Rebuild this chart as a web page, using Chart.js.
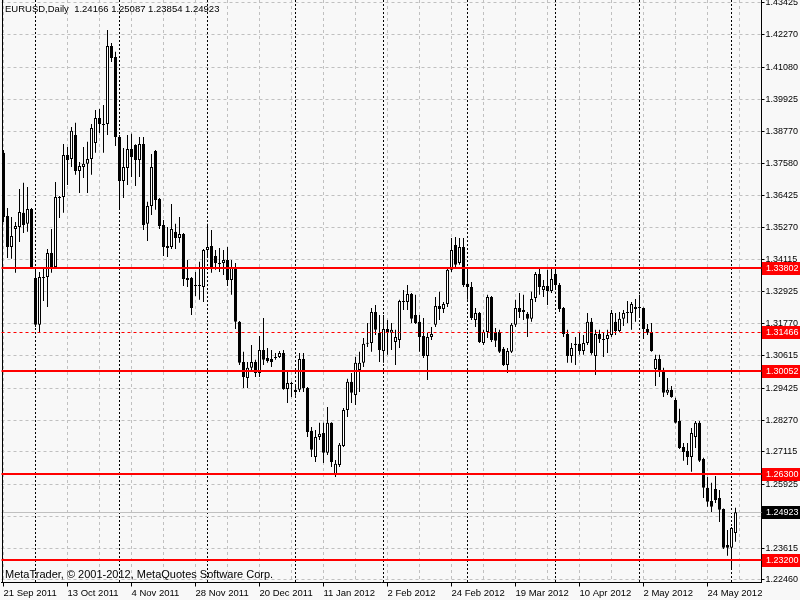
<!DOCTYPE html>
<html>
<head>
<meta charset="utf-8">
<script src="https://cdn.jsdelivr.net/npm/chart.js@4.4.0/dist/chart.umd.min.js"></script>
<style>
  html, body { margin: 0; padding: 0; background: #f8f8f8; }
  #wrap { width: 800px; height: 600px; }
</style>
</head>
<body>
<div id="wrap"><canvas id="chart" width="800" height="600"></canvas></div>
<script>
const symbolTitle = 'EURUSD,Daily';
const copyright = 'MetaTrader, \u00a9 2001-2012, MetaQuotes Software Corp.';

// daily bars, 21 Sep 2011 .. 4 Jun 2012
const opens = [
  1.3798, 1.3569, 1.3456, 1.3521, 1.3529, 1.3580, 1.3540, 1.3594, 1.3343, 1.3173,
  1.3343, 1.3347, 1.3434, 1.3383, 1.3634, 1.3638, 1.3790, 1.3776, 1.3863, 1.3732,
  1.3747, 1.3758, 1.3776, 1.3834, 1.3925, 1.3899, 1.3903, 1.4186, 1.4146, 1.3856,
  1.3696, 1.3743, 1.3812, 1.3827, 1.3772, 1.3830, 1.3540, 1.3605, 1.3805, 1.3630,
  1.3536, 1.3460, 1.3456, 1.3511, 1.3489, 1.3503, 1.3343, 1.3343, 1.3318, 1.3314,
  1.3311, 1.3445, 1.3460, 1.3423, 1.3394, 1.3398, 1.3409, 1.3336, 1.3380, 1.3184,
  1.3038, 1.2980, 1.3017, 1.3038, 1.2998, 1.3082, 1.3053, 1.3049, 1.3053, 1.3056,
  1.3071, 1.2940, 1.2958, 1.2937, 1.2937, 1.3049, 1.2944, 1.2788, 1.2693, 1.2766,
  1.2780, 1.2708, 1.2817, 1.2628, 1.2664, 1.2733, 1.2864, 1.2966, 1.2918, 1.3009,
  1.3035, 1.3104, 1.3107, 1.3220, 1.3144, 1.3078, 1.3158, 1.3144, 1.3111, 1.3118,
  1.3256, 1.3256, 1.3285, 1.3209, 1.3184, 1.3133, 1.3060, 1.3129, 1.3173, 1.3242,
  1.3231, 1.3249, 1.3373, 1.3463, 1.3398, 1.3456, 1.3322, 1.3311, 1.3191, 1.3216,
  1.3107, 1.3147, 1.3274, 1.3147, 1.3147, 1.3086, 1.3027, 1.3075, 1.3173, 1.3234,
  1.3220, 1.3213, 1.3195, 1.3271, 1.3358, 1.3300, 1.3314, 1.3296, 1.3358, 1.3318,
  1.3234, 1.3140, 1.3060, 1.3100, 1.3104, 1.3078, 1.3107, 1.3184, 1.3060, 1.3140,
  1.3122, 1.3122, 1.3136, 1.3184, 1.3151, 1.3195, 1.3216, 1.3216, 1.3231, 1.3238,
  1.3234, 1.3158, 1.3147, 1.3013, 1.3049, 1.3006, 1.2926, 1.2937, 1.2900, 1.2824,
  1.2729, 1.2715, 1.2693, 1.2766, 1.2817, 1.2686, 1.2581, 1.2533, 1.2577, 1.2544,
  1.2504, 1.2373, 1.2363, 1.24166
];
const highs = [
  1.3808, 1.3598, 1.3565, 1.3547, 1.3667, 1.3689, 1.3674, 1.3598, 1.3380, 1.3365,
  1.3380, 1.3449, 1.3521, 1.3692, 1.3641, 1.3830, 1.3819, 1.3892, 1.3907, 1.3765,
  1.3819, 1.3838, 1.3903, 1.3954, 1.3957, 1.3972, 1.4244, 1.4197, 1.4165, 1.3863,
  1.3816, 1.3863, 1.3867, 1.3829, 1.3856, 1.3856, 1.3620, 1.3794, 1.3808, 1.3634,
  1.3554, 1.3529, 1.3612, 1.3540, 1.3565, 1.3507, 1.3409, 1.3347, 1.3365, 1.3402,
  1.3449, 1.3540, 1.3518, 1.3445, 1.3452, 1.3445, 1.3456, 1.3409, 1.3398, 1.3187,
  1.3075, 1.3038, 1.3100, 1.3046, 1.3133, 1.3198, 1.3089, 1.3082, 1.3071, 1.3078,
  1.3082, 1.3009, 1.2966, 1.2951, 1.3071, 1.3071, 1.2947, 1.2802, 1.2791, 1.2817,
  1.2817, 1.2875, 1.2819, 1.2682, 1.2744, 1.2871, 1.2977, 1.2998, 1.3056, 1.3075,
  1.3125, 1.3180, 1.3234, 1.3245, 1.3209, 1.3209, 1.3191, 1.3180, 1.3155, 1.3264,
  1.3300, 1.3318, 1.3289, 1.3282, 1.3209, 1.3198, 1.3144, 1.3165, 1.3274, 1.3293,
  1.3256, 1.3380, 1.3489, 1.3492, 1.3489, 1.3489, 1.3380, 1.3329, 1.3234, 1.3220,
  1.3155, 1.3282, 1.3278, 1.3162, 1.3155, 1.3093, 1.3089, 1.3180, 1.3264, 1.3289,
  1.3282, 1.3220, 1.3293, 1.3365, 1.3376, 1.3336, 1.3373, 1.3376, 1.3376, 1.3325,
  1.3238, 1.3155, 1.3107, 1.3129, 1.3144, 1.3136, 1.3216, 1.3198, 1.3155, 1.3155,
  1.3144, 1.3155, 1.3227, 1.3216, 1.3220, 1.3227, 1.3260, 1.3256, 1.3267, 1.3282,
  1.3236, 1.3176, 1.3180, 1.3064, 1.3064, 1.3017, 1.2980, 1.2951, 1.2908, 1.2868,
  1.2744, 1.2744, 1.2798, 1.2824, 1.2824, 1.2690, 1.2620, 1.2599, 1.2624, 1.2573,
  1.2506, 1.2428, 1.2439, 1.25087
];
const lows = [
  1.3547, 1.3416, 1.3413, 1.3362, 1.3474, 1.3507, 1.3511, 1.3376, 1.3165, 1.3144,
  1.3260, 1.3238, 1.3362, 1.3380, 1.3561, 1.3580, 1.3681, 1.3747, 1.3718, 1.3652,
  1.3707, 1.3652, 1.3718, 1.3798, 1.3870, 1.3798, 1.3863, 1.4128, 1.3823, 1.3598,
  1.3634, 1.3681, 1.3710, 1.3678, 1.3710, 1.3518, 1.3478, 1.3572, 1.3591, 1.3521,
  1.3423, 1.3420, 1.3449, 1.3449, 1.3471, 1.3314, 1.3311, 1.3209, 1.3278, 1.3264,
  1.3256, 1.3416, 1.3362, 1.3373, 1.3365, 1.3354, 1.3314, 1.3282, 1.3158, 1.3027,
  1.2944, 1.2944, 1.3002, 1.2984, 1.2984, 1.3027, 1.3035, 1.3020, 1.3046, 1.3053,
  1.2937, 1.2889, 1.2911, 1.2915, 1.2929, 1.2929, 1.2766, 1.2693, 1.2675, 1.2755,
  1.2671, 1.2700, 1.2657, 1.2620, 1.2657, 1.2729, 1.2838, 1.2889, 1.2882, 1.2929,
  1.3020, 1.3093, 1.3075, 1.3136, 1.3038, 1.3035, 1.3064, 1.3082, 1.3027, 1.3089,
  1.3227, 1.3227, 1.3180, 1.3176, 1.3075, 1.3053, 1.2973, 1.3118, 1.3165, 1.3191,
  1.3216, 1.3238, 1.3365, 1.3383, 1.3391, 1.3311, 1.3264, 1.3191, 1.3165, 1.3107,
  1.3100, 1.3125, 1.3111, 1.3093, 1.3071, 1.3024, 1.2998, 1.3071, 1.3165, 1.3198,
  1.3191, 1.3129, 1.3184, 1.3256, 1.3282, 1.3274, 1.3245, 1.3289, 1.3307, 1.3220,
  1.3129, 1.3035, 1.3035, 1.3027, 1.3064, 1.3064, 1.3100, 1.3064, 1.2991, 1.3107,
  1.3056, 1.3071, 1.3129, 1.3136, 1.3147, 1.3169, 1.3180, 1.3155, 1.3184, 1.3202,
  1.3122, 1.3136, 1.3075, 1.2951, 1.2984, 1.2911, 1.2918, 1.2908, 1.2815, 1.2722,
  1.2679, 1.2664, 1.2639, 1.2726, 1.2675, 1.2544, 1.2512, 1.2493, 1.2526, 1.2457,
  1.2359, 1.2334, 1.2283, 1.23854
];
const closes = [
  1.3565, 1.3456, 1.3496, 1.3532, 1.3583, 1.3536, 1.3594, 1.3380, 1.3173, 1.3347,
  1.3347, 1.3434, 1.3380, 1.3638, 1.3638, 1.3790, 1.3772, 1.3878, 1.3732, 1.3750,
  1.3758, 1.3776, 1.3888, 1.3925, 1.3903, 1.3903, 1.4186, 1.4143, 1.3856, 1.3696,
  1.3747, 1.3812, 1.3783, 1.3772, 1.3830, 1.3536, 1.3605, 1.3747, 1.3627, 1.3532,
  1.3456, 1.3452, 1.3521, 1.3489, 1.3503, 1.3340, 1.3336, 1.3234, 1.3314, 1.3318,
  1.3445, 1.3456, 1.3383, 1.3398, 1.3398, 1.3409, 1.3336, 1.3380, 1.3184, 1.3035,
  1.2984, 1.3017, 1.3038, 1.2998, 1.3082, 1.3046, 1.3042, 1.3038, 1.3056, 1.3071,
  1.2940, 1.2962, 1.2962, 1.2929, 1.3049, 1.2944, 1.2784, 1.2719, 1.2766, 1.2777,
  1.2708, 1.2817, 1.2675, 1.2668, 1.2737, 1.2864, 1.2966, 1.2926, 1.3035, 1.3035,
  1.3104, 1.3107, 1.3220, 1.3155, 1.3082, 1.3158, 1.3144, 1.3155, 1.3129, 1.3260,
  1.3260, 1.3285, 1.3195, 1.3180, 1.3129, 1.3060, 1.3129, 1.3140, 1.3242, 1.3231,
  1.3249, 1.3373, 1.3445, 1.3391, 1.3456, 1.3318, 1.3311, 1.3198, 1.3216, 1.3111,
  1.3147, 1.3274, 1.3118, 1.3115, 1.3075, 1.3027, 1.3078, 1.3173, 1.3234, 1.3220,
  1.3227, 1.3195, 1.3267, 1.3358, 1.3311, 1.3314, 1.3296, 1.3340, 1.3318, 1.3231,
  1.3140, 1.3060, 1.3089, 1.3104, 1.3078, 1.3107, 1.3184, 1.3071, 1.3140, 1.3122,
  1.3118, 1.3136, 1.3216, 1.3151, 1.3195, 1.3216, 1.3220, 1.3249, 1.3238, 1.3234,
  1.3158, 1.3144, 1.3078, 1.3049, 1.3006, 1.2926, 1.2937, 1.2911, 1.2817, 1.2726,
  1.2711, 1.2693, 1.2780, 1.2817, 1.2679, 1.2581, 1.2530, 1.2512, 1.2537, 1.2501,
  1.2363, 1.2363, 1.2435, 1.24923
];

// date labels every 16 bars, first bar of each month
const dateTicks = ['21 Sep 2011', '13 Oct 2011', '4 Nov 2011', '28 Nov 2011', '20 Dec 2011',
  '11 Jan 2012', '2 Feb 2012', '24 Feb 2012', '19 Mar 2012', '10 Apr 2012', '2 May 2012', '24 May 2012'];
const monthStarts = [8, 29, 51, 73, 95, 116, 138, 159, 182];

const priceTicks = [1.43425, 1.42270, 1.41080, 1.39925, 1.38770, 1.37580, 1.36425, 1.35270,
  1.34115, 1.32925, 1.31770, 1.30615, 1.29425, 1.28270, 1.27115, 1.25925, 1.24770, 1.23615, 1.22460];

const solidLevels = [1.33802, 1.30052, 1.26300, 1.23200];
const dashedLevels = [1.31466];

const BAR_SLOTS = 190;   // chart keeps a few empty slots on the right
const FONT = '"Liberation Sans", Arial, sans-serif';

Chart.defaults.font.family = FONT;
Chart.defaults.font.size = 10;
Chart.defaults.color = '#000';

const slots = Array.from({ length: BAR_SLOTS }, (_, i) => i);
const wickData = highs.map((h, i) => [lows[i], h]);
const bodyData = opens.map((o, i) => [o, closes[i]]);
const bodyColors = opens.map((o, i) => (closes[i] > o ? '#ffffff' : '#000000'));

const fmt = (v) => v.toFixed(5);

const overlay = {
  id: 'overlay',
  beforeDatasetsDraw(chart) {
    const { ctx, chartArea: a, scales: { y } } = chart;
    const py = Math.round(y.getPixelForValue(closes[closes.length - 1]));
    ctx.save();
    ctx.fillStyle = '#c0c0c0';
    ctx.fillRect(a.left, py, a.right - a.left, 1);
    ctx.restore();
  },
  afterDatasetsDraw(chart) {
    const { ctx, chartArea: a, scales: { y } } = chart;
    ctx.save();
    ctx.fillStyle = '#000';
    ctx.fillRect(2, 0, 1, Math.round(a.bottom));

    ctx.fillStyle = '#ff0000';
    solidLevels.forEach((v) => {
      const py = Math.round(y.getPixelForValue(v));
      ctx.fillRect(a.left, py - 1, a.right - a.left, 2);
    });
    ctx.strokeStyle = '#ff0000';
    ctx.lineWidth = 1;
    ctx.setLineDash([3, 3]);
    dashedLevels.forEach((v) => {
      const py = Math.round(y.getPixelForValue(v)) + 0.5;
      ctx.beginPath();
      ctx.moveTo(a.left, py);
      ctx.lineTo(a.right, py);
      ctx.stroke();
    });
    ctx.restore();
  },
  afterDraw(chart) {
    const { ctx, chartArea: a, scales: { y } } = chart;
    const last = closes.length - 1;
    ctx.save();
    ctx.font = '9px ' + FONT;
    ctx.textBaseline = 'middle';

    const tag = (v, bg) => {
      const py = Math.round(y.getPixelForValue(v));
      const x0 = Math.floor(a.right) + 1;
      ctx.fillStyle = bg;
      ctx.fillRect(x0, py - 6, 800 - x0, 13);
      ctx.fillStyle = '#ffffff';
      ctx.fillText(fmt(v), x0 + 4, py + 1);
    };
    solidLevels.concat(dashedLevels).forEach((v) => tag(v, '#ff0000'));
    tag(closes[last], '#000000');

    ctx.fillStyle = '#000';
    ctx.textBaseline = 'alphabetic';
    ctx.font = '9.5px ' + FONT;
    ctx.fillText(symbolTitle + '  ' + [opens[last], highs[last], lows[last], closes[last]].map(fmt).join(' '), 5, 12);
    ctx.font = '11px ' + FONT;
    ctx.fillText(copyright, 5, 578);
    ctx.restore();
  }
};

new Chart(document.getElementById('chart'), {
  type: 'bar',
  data: {
    labels: slots,
    datasets: [
      {
        label: 'wick',
        data: wickData,
        backgroundColor: '#000000',
        borderWidth: 0,
        barThickness: 1,
        grouped: false,
        inflateAmount: 0,
        order: 2
      },
      {
        label: 'body',
        data: bodyData,
        backgroundColor: bodyColors,
        borderColor: '#000000',
        borderWidth: 1,
        borderSkipped: false,
        barThickness: 3,
        minBarLength: 1,
        grouped: false,
        inflateAmount: 0,
        order: 1
      }
    ]
  },
  options: {
    responsive: false,
    animation: false,
    events: [],
    layout: { padding: { left: 1.5, right: 0, top: 0, bottom: 0 } },
    plugins: {
      legend: { display: false },
      tooltip: { enabled: false }
    },
    scales: {
      x: {
        offset: true,
        afterBuildTicks: (s) => {
          const set = new Set(monthStarts);
          for (let i = 0; i < BAR_SLOTS; i += 8) set.add(i);
          s.ticks = [...set].sort((p, q) => p - q).map((v) => ({ value: v }));
        },
        afterFit: (s) => {
          s.height = 17.5;
          s.paddingLeft = 0;
          s.paddingRight = 0;
        },
        grid: {
          offset: false,
          tickLength: 4,
          color: (c) => (c.tick && monthStarts.includes(c.tick.value) ? '#000000' : '#c0c0c0'),
          tickColor: (c) => (c.tick && c.tick.value % 16 === 0 ? '#000000' : 'rgba(0,0,0,0)')
        },
        border: {
          color: '#000000',
          dash: (c) => (c.tick && monthStarts.includes(c.tick.value) ? [2, 2] : [3, 3])
        },
        ticks: {
          autoSkip: false,
          maxRotation: 0,
          align: 'start',
          padding: 1,
          color: '#000',
          font: { size: 9.5 },
          callback: (v) => (v % 16 === 0 && dateTicks[v / 16] ? dateTicks[v / 16] : '')
        }
      },
      y: {
        position: 'right',
        min: 1.22369,
        max: 1.43534,
        afterBuildTicks: (s) => {
          s.ticks = priceTicks.map((v) => ({ value: v }));
        },
        afterFit: (s) => {
          s.width = 38.5;
          s.paddingTop = 0;
          s.paddingBottom = 0;
        },
        grid: {
          color: '#c0c0c0',
          tickColor: '#000000',
          tickLength: 3
        },
        border: { color: '#000000', dash: [3, 3] },
        ticks: {
          autoSkip: false,
          padding: 1,
          color: '#000',
          font: { size: 9 },
          callback: (v) => fmt(v)
        }
      }
    }
  },
  plugins: [overlay]
});
</script>
</body>
</html>
